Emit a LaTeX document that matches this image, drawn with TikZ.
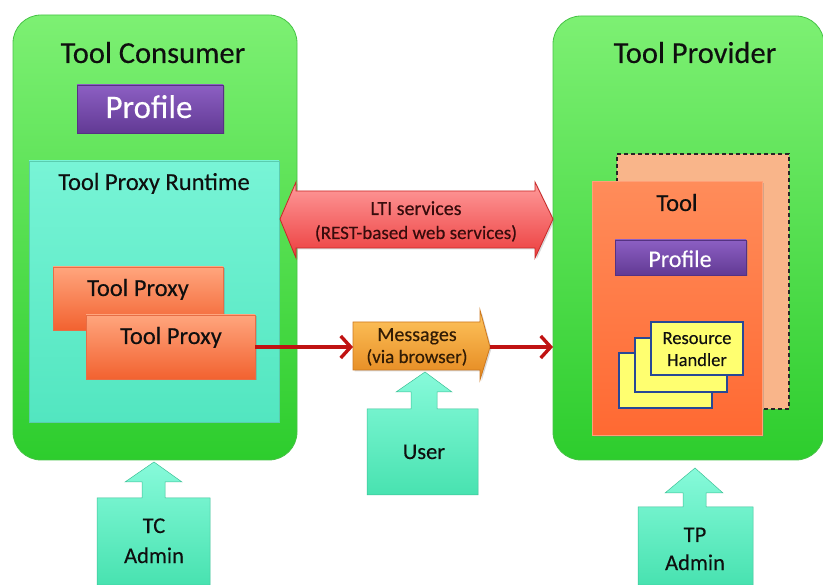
\documentclass[tikz,border=0pt]{standalone}
\usepackage{fontspec}
\setmainfont{Carlito}[FakeBold=0.25]
\usetikzlibrary{arrows.meta,shadows}
\definecolor{gTop}{RGB}{125,240,115}
\definecolor{gBot}{RGB}{45,205,45}
\definecolor{gLine}{RGB}{70,195,70}
\definecolor{aqTop}{RGB}{120,244,214}
\definecolor{aqBot}{RGB}{82,230,192}
\definecolor{aqLine}{RGB}{90,205,175}
\definecolor{purTop}{RGB}{140,95,195}
\definecolor{purBot}{RGB}{98,58,148}
\definecolor{purLine}{RGB}{85,50,130}
\definecolor{orTop}{RGB}{255,165,125}
\definecolor{orBot}{RGB}{242,98,48}
\definecolor{orLine}{RGB}{230,110,70}
\definecolor{redTop}{RGB}{255,155,155}
\definecolor{redBot}{RGB}{236,62,62}
\definecolor{redLine}{RGB}{200,40,40}
\definecolor{msgTop}{RGB}{255,198,95}
\definecolor{msgBot}{RGB}{228,135,30}
\definecolor{msgLine}{RGB}{205,120,30}
\definecolor{conn}{RGB}{192,18,18}
\definecolor{mintTop}{RGB}{135,250,218}
\definecolor{mintBot}{RGB}{72,226,176}
\definecolor{peach}{RGB}{249,181,138}
\definecolor{toolTop}{RGB}{255,140,90}
\definecolor{toolBot}{RGB}{255,105,50}
\definecolor{toolLine}{RGB}{255,160,120}
\definecolor{yel}{RGB}{255,255,112}
\definecolor{rhBlue}{RGB}{40,72,150}
\definecolor{txt}{RGB}{15,15,15}
\definecolor{txtRed}{RGB}{55,12,12}
\definecolor{txtBrown}{RGB}{50,28,5}
\begin{document}
\begin{tikzpicture}[x=1pt,y=-1pt,
  box/.style={anchor=north west, inner sep=0pt, outer sep=0pt},
  greenbox/.style={box, rounded corners=28pt, top color=gTop, bottom color=gBot, draw=gLine, line width=0.8pt},
  aquabox/.style={box, top color=aqTop, bottom color=aqBot, draw=aqLine, line width=0.8pt},
  purplebox/.style={box, top color=purTop, bottom color=purBot, draw=purLine, line width=0.8pt,
     drop shadow={opacity=0.35, shadow xshift=1.5pt, shadow yshift=-1.5pt}},
  orangebox/.style={box, top color=orTop, bottom color=orBot, draw=orLine, line width=0.8pt,
     drop shadow={opacity=0.35, shadow xshift=1.5pt, shadow yshift=-1.5pt}},
  toolbox/.style={box, top color=toolTop, bottom color=toolBot, draw=toolLine, line width=1pt,
     drop shadow={opacity=0.3, shadow xshift=1.5pt, shadow yshift=-1.5pt}},
  dashbox/.style={box, fill=peach, draw=black!85, line width=1.3pt, dash pattern=on 4pt off 3pt},
  rhbox/.style={box, fill=yel, draw=rhBlue, line width=1.6pt},
  redarrow/.style={top color=redTop, bottom color=redBot, draw=redLine, line width=0.8pt,
     drop shadow={opacity=0.3, shadow xshift=1.5pt, shadow yshift=-1.5pt}},
  msgarrow/.style={top color=msgTop, bottom color=msgBot, draw=msgLine, line width=0.8pt,
     drop shadow={opacity=0.3, shadow xshift=1.5pt, shadow yshift=-1.5pt}},
  uparrow/.style={top color=mintTop, bottom color=mintBot, draw=mintBot!85!black, line width=0.5pt},
  conn/.style={draw=conn, line width=3.4pt, -{Straight Barb[length=10pt, width=22pt]}},
  lbl/.style={inner sep=0pt, anchor=base, text=txt},
  ttl/.style={lbl, font=\fontsize{30.5}{36}\selectfont},
  big/.style={lbl, font=\fontsize{24.5}{29}\selectfont},
  mid/.style={lbl, font=\fontsize{20}{24}\selectfont},
  small/.style={lbl, font=\fontsize{18.5}{22}\selectfont},
  actor/.style={lbl, font=\fontsize{22.5}{26}\selectfont}
]
\useasboundingbox (0,0) rectangle (823,585);

% ---------- Tool Consumer ----------
\node[greenbox, minimum width=284pt, minimum height=445pt] (tc) at (13,15) {};
\node[ttl] (tctitle) at (153,63) {Tool Consumer};
\node[purplebox, minimum width=146pt, minimum height=48pt] (tcprof) at (77,85) {};
\node[lbl, text=white, font=\fontsize{33}{38}\selectfont] (tcproftxt) at (149,118) {Profile};
\node[aquabox, minimum width=250pt, minimum height=261pt] (rt) at (29,161) {};
\node[big] (rttxt) at (154,190) {Tool Proxy Runtime};
\node[orangebox, minimum width=170pt, minimum height=63pt] (tp1) at (53,267) {};
\node[big] (tp1txt) at (138,296) {Tool Proxy};
\node[orangebox, minimum width=169pt, minimum height=64pt] (tp2) at (86,315) {};
\node[big] (tp2txt) at (171,344) {Tool Proxy};

% ---------- Tool Provider ----------
\node[greenbox, minimum width=271pt, minimum height=444pt] (tp) at (553,16) {};
\node[ttl] (tptitle) at (695,63) {Tool Provider};
\node[dashbox, minimum width=172pt, minimum height=255pt] (tool2) at (617,154) {};
\node[toolbox, minimum width=170pt, minimum height=254pt] (tool) at (592,182) {};
\node[big] (tooltxt) at (677,211) {Tool};
\node[purplebox, minimum width=131pt, minimum height=35pt] (tpprof) at (615,240) {};
\node[lbl, text=white, font=\fontsize{24}{28}\selectfont] (tpproftxt) at (680,267) {Profile};
\node[rhbox, minimum width=93pt, minimum height=55pt] (rh3) at (619,353) {};
\node[rhbox, minimum width=92pt, minimum height=54pt] (rh2) at (635,338) {};
\node[rhbox, minimum width=92pt, minimum height=53pt] (rh1) at (651,322) {};
\node[small] (rhtxt1) at (697,344) {Resource};
\node[small] (rhtxt2) at (697,366) {Handler};

% ---------- LTI services ----------
\path[redarrow] (280,219) -- (296,182) -- (296,191) -- (535,191) -- (535,182)
  -- (553,219) -- (535,258) -- (535,248) -- (296,248) -- (296,258) -- cycle;
\node[mid, text=txtRed] (lti1) at (416,215) {LTI services};
\node[mid, text=txtRed, font=\fontsize{19}{23}\selectfont] (lti2) at (416,239) {(REST-based web services)};

% ---------- Messages ----------
\path[msgarrow] (353,322) -- (480,322) -- (480,310) -- (490,347) -- (480,380)
  -- (480,370) -- (353,370) -- cycle;
\coordinate (msgL) at (353,347);
\coordinate (msgR) at (490,347);
\node[mid, text=txtBrown] (msg1) at (417,341) {Messages};
\node[mid, text=txtBrown, font=\fontsize{19}{23}\selectfont] (msg2) at (417,363) {(via browser)};

\draw[conn] (tp2.east |- msgL) -- (msgL);
\draw[conn] (msgR) -- (msgR -| tp.west);

% ---------- Actors ----------
\path[uparrow] (425,372) -- (452,392) -- (437,392) -- (437,409) -- (478,409) -- (478,495)
  -- (367,495) -- (367,409) -- (411,409) -- (411,392) -- (396,392) -- cycle;
\node[actor] (user) at (424,459) {User};

\path[uparrow] (154,462) -- (182,482) -- (165,482) -- (165,498) -- (210,498) -- (210,585)
  -- (97,585) -- (97,498) -- (142,498) -- (142,482) -- (125,482) -- cycle;
\node[actor] (tca1) at (154,533) {TC};
\node[actor] (tca2) at (154,563) {Admin};

\path[uparrow] (695,468) -- (723,493) -- (706,493) -- (706,507) -- (753,507) -- (753,585)
  -- (638,585) -- (638,507) -- (683,507) -- (683,493) -- (665,493) -- cycle;
\node[actor] (tpa1) at (695,542) {TP};
\node[actor] (tpa2) at (695,570) {Admin};
\end{tikzpicture}
\end{document}
